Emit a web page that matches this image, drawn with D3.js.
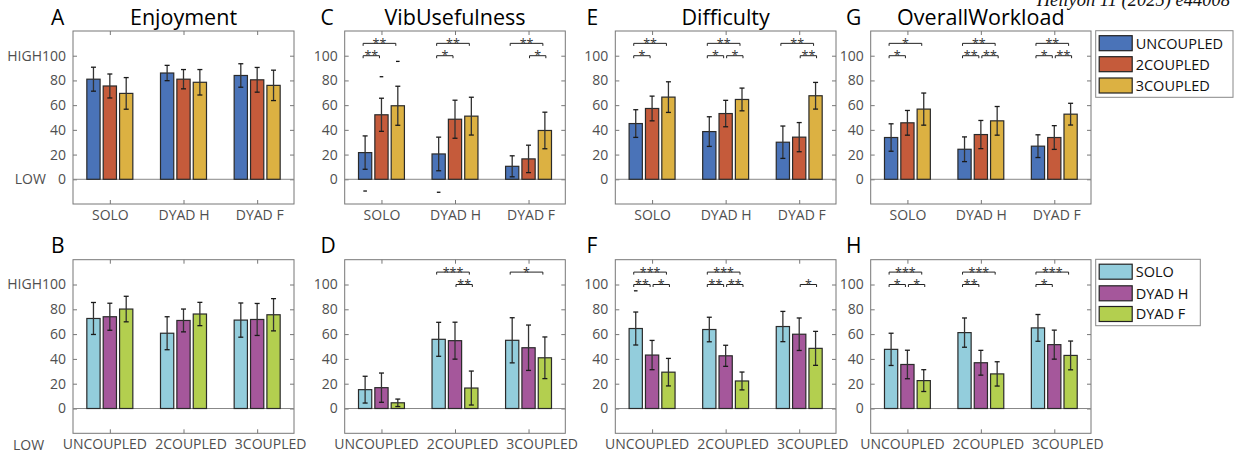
<!DOCTYPE html>
<html>
<head>
<meta charset="utf-8">
<script src="https://cdn.jsdelivr.net/npm/d3@7.9.0/dist/d3.min.js"></script>
<style>
  body { margin: 0; background: #fff; }
  svg { display: block; font-family: 'Open Sans', sans-serif; }
</style>
</head>
<body>
<svg id="chart" width="1250" height="456"></svg>
<script>
// categories
const conditions = ['SOLO', 'DYAD H', 'DYAD F'];
const couplings = ['UNCOUPLED', '2COUPLED', '3COUPLED'];
const yTicks = [0, 20, 40, 60, 80, 100];
const titles = ['Enjoyment', 'VibUsefulness', 'Difficulty', 'OverallWorkload'];

// top row: groups = conditions, bars = couplings  [group][bar]
const enjoyTopMeans = [[81, 75.5, 69.5], [86, 81, 78.5], [84, 80.5, 76]];
const enjoyTopErr = [[9.7, 9.7, 12.8], [6.2, 7.8, 10.3], [9.5, 10, 12.3]];
const vibTopMeans = [[21.6, 52.2, 59.5], [20.5, 48.6, 51.1], [10.5, 16.5, 39.5]];
const vibTopErr = [[13.5, 13.4, 15.8], [13.6, 15.4, 15.3], [8.5, 11.1, 14.8]];
const diffTopMeans = [[45.1, 57.3, 66.5], [38.6, 53.2, 64.6], [30, 34.1, 67.6]];
const diffTopErr = [[11.2, 10, 12.4], [12, 10.7, 9.2], [13.1, 11.8, 10.8]];
const workTopMeans = [[33.8, 45.7, 56.8], [24.3, 36.2, 47.3], [26.8, 33.8, 52.7]];
const workTopErr = [[11.1, 10, 13], [10, 11.4, 11.6], [9.2, 9.6, 8.8]];

// bottom row: groups = couplings, bars = conditions
const enjoyBotMeans = [[72.6, 74, 80.2], [60.7, 71, 76.2], [71.3, 71.8, 75.6]];
const enjoyBotErr = [[12.9, 10.9, 10.3], [13.3, 9.2, 9.4], [13.8, 12.9, 13]];
const vibBotMeans = [[15.2, 16.8, 4.6], [55.8, 54.7, 16.5], [55, 49, 40.9]];
const vibBotErr = [[10.8, 11.8, 3], [13.7, 14.9, 13.7], [18.2, 18.3, 16.8]];
const diffBotMeans = [[64.5, 43.1, 29.3], [63.7, 42.5, 22.2], [66.1, 59.9, 48.5]];
const diffBotErr = [[13.3, 11.8, 11.1], [9.9, 8.5, 7.2], [12.2, 13.1, 13.7]];
const workBotMeans = [[47.7, 35.5, 22.5], [61.2, 36.9, 27.9], [65, 51.5, 42.8]];
const workBotErr = [[13, 11.5, 8.8], [11.8, 10, 9.8], [10.8, 11.7, 11.6]];

// outliers [group, bar, value]
const vibTopOutliers = [[0, 0, -9.5], [0, 1, 83], [0, 2, 95.4], [1, 0, -10.5]];
const diffBotOutliers = [[0, 0, 94.9]];

// significance [group, barA, barB, stars]
const vibTopSig = [[0, 0, 1, '**'], [0, 0, 2, '**'], [1, 0, 1, '*'], [1, 0, 2, '**'], [2, 1, 2, '*'], [2, 0, 2, '**']];
const diffTopSig = [[0, 0, 1, '*'], [0, 0, 2, '**'], [1, 0, 1, '*'], [1, 1, 2, '*'], [1, 0, 2, '**'], [2, 1, 2, '**'], [2, 0, 2, '**']];
const workTopSig = [[0, 0, 1, '*'], [0, 0, 2, '*'], [1, 0, 1, '**'], [1, 1, 2, '**'], [1, 0, 2, '**'], [2, 0, 1, '*'], [2, 1, 2, '**'], [2, 0, 2, '**']];
const vibBotSig = [[1, 0, 2, '***'], [1, 1, 2, '**'], [2, 0, 2, '*']];
const diffBotSig = [[0, 0, 2, '***'], [0, 0, 1, '**'], [0, 1, 2, '*'], [1, 0, 2, '***'], [1, 0, 1, '**'], [1, 1, 2, '**'], [2, 1, 2, '*']];
const workBotSig = [[0, 0, 2, '***'], [0, 0, 1, '*'], [0, 1, 2, '*'], [1, 0, 2, '***'], [1, 0, 1, '**'], [2, 0, 2, '***'], [2, 0, 1, '*']];

const topColors = ['#4a73b8', '#c55b3b', '#dcb142'];
const botColors = ['#93cddc', '#a5579b', '#b3cf4f'];

const svg = d3.select('#chart');
svg.append('rect').attr('width', 1250).attr('height', 456).attr('fill', '#fff');

// journal header (clipped at top edge, as in the source)
svg.append('text')
  .attr('x', 1230).attr('y', 5.5)
  .attr('text-anchor', 'end')
  .attr('font-family', 'Liberation Serif, serif')
  .attr('font-style', 'italic')
  .attr('font-size', 18.5)
  .attr('fill', '#111')
  .text('Heliyon 11 (2025) e44008');

const colsX = [[73, 294], [344.7, 565.3], [615.3, 836], [870.7, 1091]];
const rowsY = [[31, 204], [259.7, 433.3]];
const letterX = [51, 320.5, 586.5, 846];
// the long bottom-row labels sit a little off their ticks in the source
const labelShift = [[0, 0, 2], [-5.5, 7, 13]];

const panels = [
  { row: 0, col: 0, letter: 'A', title: titles[0], means: enjoyTopMeans, errs: enjoyTopErr, groups: conditions, colors: topColors, sig: [], outliers: [], highLow: true },
  { row: 0, col: 1, letter: 'C', title: titles[1], means: vibTopMeans, errs: vibTopErr, groups: conditions, colors: topColors, sig: vibTopSig, outliers: vibTopOutliers },
  { row: 0, col: 2, letter: 'E', title: titles[2], means: diffTopMeans, errs: diffTopErr, groups: conditions, colors: topColors, sig: diffTopSig, outliers: [] },
  { row: 0, col: 3, letter: 'G', title: titles[3], means: workTopMeans, errs: workTopErr, groups: conditions, colors: topColors, sig: workTopSig, outliers: [] },
  { row: 1, col: 0, letter: 'B', means: enjoyBotMeans, errs: enjoyBotErr, groups: couplings, colors: botColors, sig: [], outliers: [], highLow: true },
  { row: 1, col: 1, letter: 'D', means: vibBotMeans, errs: vibBotErr, groups: couplings, colors: botColors, sig: vibBotSig, outliers: [] },
  { row: 1, col: 2, letter: 'F', means: diffBotMeans, errs: diffBotErr, groups: couplings, colors: botColors, sig: diffBotSig, outliers: diffBotOutliers },
  { row: 1, col: 3, letter: 'H', means: workBotMeans, errs: workBotErr, groups: couplings, colors: botColors, sig: workBotSig, outliers: [] }
];

const off = d3.scaleBand().domain([0, 1, 2]).range([-1 / 3, 1 / 3]).paddingInner(0.19).paddingOuter(0.095);

function drawPanel(p) {
  const [left, right] = colsX[p.col];
  const [top, bottom] = rowsY[p.row];
  const g = svg.append('g');
  const x = d3.scaleLinear().domain([0.5, 3.5]).range([left, right]);
  const y = d3.scaleLinear().domain([-20, 120]).range([bottom, top]);
  const barCenter = (gi, bi) => x(gi + 1 + off(bi) + off.bandwidth() / 2);
  const barW = x(off.bandwidth()) - x(0);

  // axes with inward ticks
  g.append('g').attr('transform', `translate(${left},0)`)
    .call(d3.axisLeft(y).tickValues(yTicks).tickSize(-4).tickPadding(7)
      .tickFormat(d => (p.highLow && d === 100) ? 'HIGH100' : d));
  g.append('g').attr('transform', `translate(${right},0)`)
    .call(d3.axisRight(y).tickValues(yTicks).tickSize(-4).tickFormat(''));
  const xAxisG = g.append('g').attr('transform', `translate(0,${bottom})`)
    .call(d3.axisBottom(x).tickValues([1, 2, 3]).tickSize(-4).tickPadding(6)
      .tickFormat(d => p.groups[d - 1]));
  xAxisG.selectAll('.tick text').attr('x', d => labelShift[p.row][d - 1]);
  g.append('g').attr('transform', `translate(0,${top})`)
    .call(d3.axisTop(x).tickValues([1, 2, 3]).tickSize(-4).tickFormat(''));
  g.selectAll('.domain').remove();
  g.selectAll('.tick line').attr('stroke', '#777');
  g.selectAll('.tick text').attr('font-size', 14).attr('fill', '#4f4f4f').attr('font-family', 'Open Sans, sans-serif');

  g.append('rect')
    .attr('x', left).attr('y', top)
    .attr('width', right - left).attr('height', bottom - top)
    .attr('fill', 'none').attr('stroke', '#777').attr('stroke-width', 1);

  if (p.highLow) {
    const lowY = p.row === 0 ? y(0) + 5 : bottom + 17;
    const lowX = p.row === 0 ? 14.7 : 13;
    g.append('text').attr('x', lowX).attr('y', lowY)
      .attr('font-size', 14).attr('fill', '#4f4f4f').text('LOW');
  }

  // zero line
  g.append('line')
    .attr('x1', left).attr('x2', right)
    .attr('y1', y(0)).attr('y2', y(0))
    .attr('stroke', '#888').attr('stroke-width', 1);

  // bars
  p.means.forEach((row, gi) => {
    row.forEach((m, bi) => {
      g.append('rect')
        .attr('x', barCenter(gi, bi) - barW / 2)
        .attr('y', y(m))
        .attr('width', barW)
        .attr('height', y(0) - y(m))
        .attr('fill', p.colors[bi])
        .attr('stroke', '#2a2a2a').attr('stroke-width', 1.2);
    });
  });

  // error bars
  p.means.forEach((row, gi) => {
    row.forEach((m, bi) => {
      const e = p.errs[gi][bi];
      const cx = barCenter(gi, bi);
      const eg = g.append('g').attr('stroke', '#1a1a1a').attr('stroke-width', 1.3);
      eg.append('line').attr('x1', cx).attr('x2', cx).attr('y1', y(m - e)).attr('y2', y(m + e)).attr('stroke', '#333');
      eg.append('line').attr('x1', cx - 2.5).attr('x2', cx + 2.5).attr('y1', y(m - e)).attr('y2', y(m - e));
      eg.append('line').attr('x1', cx - 2.5).attr('x2', cx + 2.5).attr('y1', y(m + e)).attr('y2', y(m + e));
    });
  });

  // outlier marks
  p.outliers.forEach(([gi, bi, v]) => {
    const cx = barCenter(gi, bi);
    g.append('line')
      .attr('x1', cx - 1.8).attr('x2', cx + 1.8)
      .attr('y1', y(v)).attr('y2', y(v))
      .attr('stroke', '#111').attr('stroke-width', 1.3);
  });

  // significance brackets
  p.sig.forEach(([gi, a, b, stars]) => {
    const level = (b - a === 2) ? 110 : 100;
    const shift = a === 1 ? 1 : -2;
    const xa = barCenter(gi, a) + shift;
    const xbb = barCenter(gi, b) + shift;
    const ly = y(level);
    g.append('path')
      .attr('d', `M${xa},${ly + 2.5}V${ly}H${xbb}V${ly + 2.5}`)
      .attr('fill', 'none').attr('stroke', '#222').attr('stroke-width', 1);
    g.append('text')
      .attr('x', (xa + xbb) / 2).attr('y', ly + 4.5)
      .attr('text-anchor', 'middle')
      .attr('font-size', 12.5).attr('fill', '#333')
      .text(stars);
  });

  // panel letter and title
  const titleY = p.row === 0 ? 25 : 253;
  g.append('text')
    .attr('x', letterX[p.col]).attr('y', titleY)
    .attr('font-size', 21).attr('fill', '#000')
    .text(p.letter);
  if (p.title) {
    g.append('text')
      .attr('x', (left + right) / 2).attr('y', titleY)
      .attr('text-anchor', 'middle')
      .attr('font-size', 21.5).attr('fill', '#000')
      .text(p.title);
  }
}

panels.forEach(drawPanel);

// legends
function drawLegend(x0, y0, w, h, labels, colors, rowCenters) {
  const lg = svg.append('g');
  lg.append('rect').attr('x', x0).attr('y', y0).attr('width', w).attr('height', h)
    .attr('fill', '#fff').attr('stroke', '#888').attr('stroke-width', 1);
  labels.forEach((lab, i) => {
    const cy = y0 + rowCenters[i];
    lg.append('rect')
      .attr('x', x0 + 3.5).attr('y', cy - 7.5)
      .attr('width', 33).attr('height', 15)
      .attr('fill', colors[i]).attr('stroke', '#222').attr('stroke-width', 1.2);
    lg.append('text')
      .attr('x', x0 + 40).attr('y', cy + 5.3)
      .attr('font-size', 14.5).attr('fill', '#111')
      .text(lab);
  });
}

drawLegend(1095.7, 30.7, 137.3, 66.6, couplings, topColors, [12.5, 33.5, 54.8]);
drawLegend(1095.7, 259.3, 104.6, 66.4, conditions, botColors, [12.4, 34, 54.7]);
</script>
</body>
</html>
